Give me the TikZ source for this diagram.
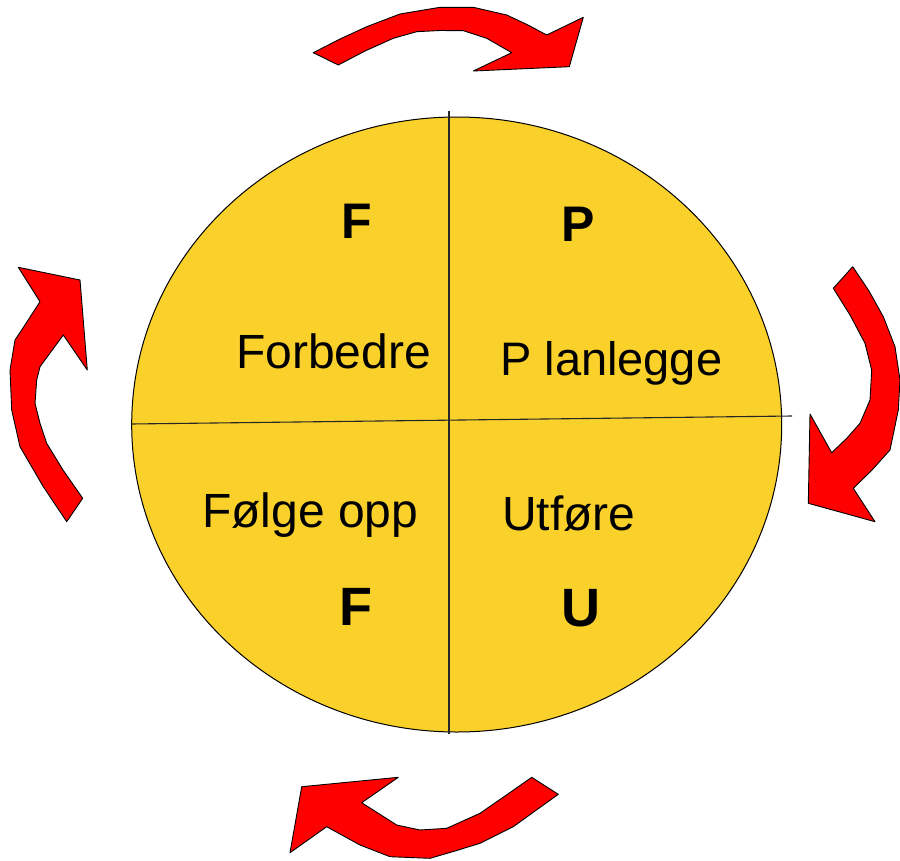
\documentclass[tikz,border=0pt]{standalone}
\usepackage{fontspec}
\setmainfont{Liberation Sans}
\definecolor{disc}{RGB}{250,208,42}
\definecolor{arr}{RGB}{255,0,0}
\begin{document}
\begin{tikzpicture}[x=1bp,y=-1bp,
  cyc/.style={fill=arr,draw=black,line width=0.9bp,line join=round},
  word/.style={anchor=base west,inner sep=0pt,font=\fontsize{48bp}{50bp}\selectfont},
  lettop/.style={anchor=base west,inner sep=0pt,font=\fontsize{50bp}{54bp}\selectfont\bfseries},
  letbot/.style={anchor=base west,inner sep=0pt,font=\fontsize{54bp}{58bp}\selectfont\bfseries},
  divider/.style={draw=black!85,line width=1.1bp}]
\useasboundingbox (0,0) rectangle (900,861);
% disc
\draw[fill=disc,draw=black,line width=1bp] (456.7,424.5) ellipse [x radius=325, y radius=307.5];
\coordinate (vt) at (449,111);
\coordinate (vb) at (449,734);
\coordinate (hl) at (131,424);
\coordinate (hr) at (792,416);
\draw[divider] (vt) -- (vb);
\draw[divider] (hl) -- (hr);
% texts
\node[word] (forb) at (236,368) {Forbedre};
\node[word,font=\fontsize{47bp}{50bp}\selectfont] (plan) at (500,375) {P lanlegge};
\node[word] (folg) at (202,527) {Følge opp};
\node[word] (utf) at (502,530) {Utføre};
\node[lettop] (f1) at (341.5,238.3) {F};
\node[lettop] (p1) at (561.5,241.7) {P};
\node[letbot] (f2) at (339,625) {F};
\node[letbot] (u1) at (561,626.7) {U};
% top arrow
\draw[cyc] (313.3,52.7) -- (340,39) -- (366.7,26.7) -- (400,14) -- (440,7.3) -- (473.3,7.3)
  -- (506.7,15) -- (528,25) -- (546.7,35) -- (583.3,17.3) -- (569.3,66.7) -- (473.3,71)
  -- (511.7,52.7) -- (486.7,38.3) -- (463.3,30.7) -- (440,30.5) -- (416.7,31.7) -- (393.3,38.3)
  -- (365,51) -- (338.3,65) -- cycle;
% right arrow
\draw[cyc] (852.7,266.7) -- (869,291) -- (883.3,316.7) -- (895,346.7) -- (900,380) -- (898.3,410)
  -- (890,450) -- (872,470) -- (853.3,488.3) -- (875,521.7) -- (808.3,503.3) -- (810,414)
  -- (831.7,452.7) -- (847,438) -- (860,423.3) -- (870,400) -- (871.7,370) -- (865,343.3)
  -- (850,315) -- (833.3,288.3) -- cycle;
% left arrow
\draw[cyc] (66.7,521.7) -- (43.3,486.7) -- (20,446.7) -- (11.7,410) -- (10,370) -- (15,340)
  -- (21.7,330) -- (40,301.7) -- (18.3,267.3) -- (80,280) -- (87.3,370) -- (63.3,335)
  -- (40,366.7) -- (36.7,380) -- (35,403.3) -- (40,423.3) -- (46.7,443.3) -- (63,470)
  -- (82.7,498.3) -- cycle;
% bottom arrow
\draw[cyc] (558.3,794.3) -- (535,811) -- (513.3,826.7) -- (480,843.3) -- (455,851) -- (430,858.3)
  -- (390,856.7) -- (360,845) -- (326.7,826.7) -- (290,852.7) -- (301.7,786.7) -- (398.3,777.3)
  -- (361.7,802.7) -- (396.7,825) -- (420,830) -- (446.7,828.3) -- (480,813.3) -- (505,796)
  -- (531.7,777.3) -- cycle;
\end{tikzpicture}
\end{document}
